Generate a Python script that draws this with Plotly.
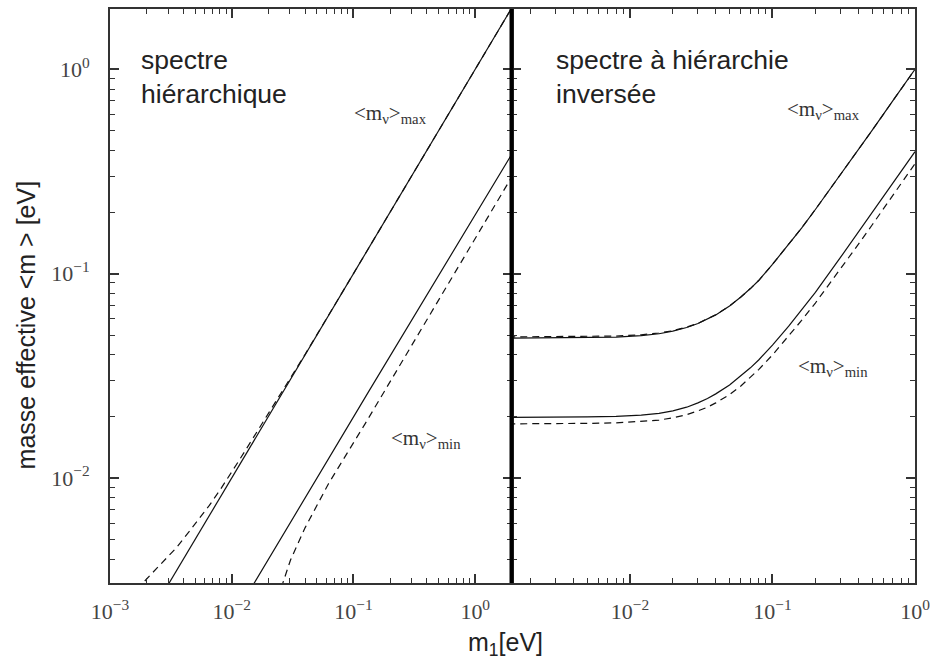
import plotly.graph_objects as go

# ---------------- data ----------------
# Left panel: normal hierarchy ("spectre hiérarchique")
nh_max_solid_x = [0.0029, 0.01, 0.1, 1.0, 2.0]
nh_max_solid_y = [0.0029, 0.01, 0.1, 1.0, 2.0]
nh_max_dash_x = [0.00165, 0.00187, 0.00226, 0.0028, 0.0035, 0.0045, 0.0055, 0.00655, 0.008,
                 0.00955, 0.0115, 0.0139, 0.019, 0.024, 0.03, 0.04, 0.1, 1.0, 2.0]
nh_max_dash_y = [0.00284, 0.00307, 0.00344, 0.00392, 0.00455, 0.00549, 0.00638, 0.00734, 0.00872,
                 0.01022, 0.01219, 0.0146, 0.01967, 0.0246, 0.03045, 0.0402, 0.1, 1.0, 2.0]
nh_min_solid_x = [0.0145, 0.1324, 2.0]
nh_min_solid_y = [0.0029, 0.0263, 0.385]
nh_min_dash_x = [0.0255, 0.0275, 0.0304, 0.04, 0.0625, 0.1245, 1.73, 2.0]
nh_min_dash_y = [0.0029, 0.0033, 0.00397, 0.0057, 0.0094, 0.0184, 0.258, 0.298]

# Right panel: inverted hierarchy ("spectre à hiérarchie inversée")
ih_x = [0.0014, 0.003, 0.005, 0.008, 0.012, 0.016, 0.02, 0.025, 0.03, 0.035, 0.04, 0.05,
        0.06, 0.07, 0.08, 0.1, 0.13, 0.16, 0.2, 0.3, 0.4, 0.5, 0.7, 1.0]
ih_max_solid_y = [0.0483, 0.0484, 0.0486, 0.0489, 0.0497, 0.0508, 0.0523, 0.0545, 0.0570, 0.0598,
                  0.0628, 0.0695, 0.0768, 0.0845, 0.0925, 0.111, 0.139, 0.167, 0.206, 0.304,
                  0.403, 0.502, 0.702, 1.0]
ih_max_dash_y = [0.0490, 0.0491, 0.0492, 0.0495, 0.0502, 0.0512, 0.0526, 0.0547, 0.0571, 0.0599,
                 0.0629, 0.0695, 0.0768, 0.0845, 0.0925, 0.111, 0.139, 0.167, 0.206, 0.304,
                 0.403, 0.502, 0.702, 1.0]
ih_min_solid_y = [0.0198, 0.0198, 0.0199, 0.0200, 0.0203, 0.0207, 0.0213, 0.0222, 0.0233, 0.0245,
                  0.0258, 0.0285, 0.0315, 0.0346, 0.0378, 0.0447, 0.0553, 0.0662, 0.081, 0.120,
                  0.160, 0.200, 0.279, 0.395]
ih_min_dash_y = [0.0184, 0.0184, 0.0185, 0.0186, 0.0189, 0.0192, 0.0197, 0.0204, 0.0213, 0.0222,
                 0.0233, 0.0256, 0.0282, 0.0310, 0.0339, 0.0400, 0.0494, 0.0590, 0.0718, 0.105,
                 0.139, 0.173, 0.242, 0.345]

# ticks
left_xtick_vals = [1e-3, 1e-2, 1e-1, 1.0]
left_xtick_text = ["10<sup>−3</sup>", "10<sup>−2</sup>", "10<sup>−1</sup>", "10<sup>0</sup>"]
right_xtick_vals = [1e-2, 1e-1, 1.0]
right_xtick_text = ["10<sup>−2</sup>", "10<sup>−1</sup>", "10<sup>0</sup>"]
ytick_vals = [1e-2, 1e-1, 1.0]
ytick_text = ["10<sup>−2</sup>", "10<sup>−1</sup>", "10<sup>0</sup>"]
minor_vals = [m * 10.0 ** e for e in (-3, -2, -1, 0) for m in range(2, 10)]

# ---------------- layout geometry ----------------
W, H = 937, 670
ML, MR, MT, MB = 110, 17, 7, 87
PW, PH = W - ML - MR, H - MT - MB
SPLIT_PX = 514
split = (SPLIT_PX - ML) / PW


def px(xp):
    return (xp - ML) / PW


def py(yp):
    return (H - MB - yp) / PH


fig = go.Figure()

solid = dict(color="#111", width=1.2)
dashed = dict(color="#111", width=1.2, dash="7px,5px")

fig.add_trace(go.Scatter(x=nh_max_solid_x, y=nh_max_solid_y, mode="lines", line=solid, xaxis="x", yaxis="y"))
fig.add_trace(go.Scatter(x=nh_max_dash_x, y=nh_max_dash_y, mode="lines", line=dashed, xaxis="x", yaxis="y"))
fig.add_trace(go.Scatter(x=nh_min_solid_x, y=nh_min_solid_y, mode="lines", line=solid, xaxis="x", yaxis="y"))
fig.add_trace(go.Scatter(x=nh_min_dash_x, y=nh_min_dash_y, mode="lines", line=dashed, xaxis="x", yaxis="y"))

fig.add_trace(go.Scatter(x=ih_x, y=ih_max_solid_y, mode="lines", line=solid, xaxis="x2", yaxis="y2"))
fig.add_trace(go.Scatter(x=ih_x, y=ih_max_dash_y, mode="lines", line=dashed, xaxis="x2", yaxis="y2"))
fig.add_trace(go.Scatter(x=ih_x, y=ih_min_solid_y, mode="lines", line=solid, xaxis="x2", yaxis="y2"))
fig.add_trace(go.Scatter(x=ih_x, y=ih_min_dash_y, mode="lines", line=dashed, xaxis="x2", yaxis="y2"))

tickfont = dict(family="Liberation Serif", size=22, color="#444")
axis_common = dict(
    type="log", showgrid=False, zeroline=False, showline=True, linecolor="#333",
    linewidth=2, mirror="ticks", ticks="inside", ticklen=9, tickwidth=1.5,
    tickcolor="#333", tickmode="array", tickfont=tickfont,
    minor=dict(ticks="inside", ticklen=5, tickwidth=1.2, tickcolor="#333",
               tickmode="array", tickvals=minor_vals, showgrid=False),
)

yrange = [-2.514, 0.295]

fig.update_layout(
    width=W, height=H,
    margin=dict(l=ML, r=MR, t=MT, b=MB),
    paper_bgcolor="white", plot_bgcolor="white",
    showlegend=False,
    xaxis=dict(axis_common, domain=[0, split], range=[-3, 0.298],
               tickvals=left_xtick_vals, ticktext=left_xtick_text,
               anchor="y", ticklabelstandoff=8),
    xaxis2=dict(axis_common, domain=[split, 1], range=[-2.831, 0],
                tickvals=right_xtick_vals, ticktext=right_xtick_text,
                anchor="y2", ticklabelstandoff=8),
    yaxis=dict(axis_common, domain=[0, 1], range=yrange,
               tickvals=ytick_vals, ticktext=ytick_text,
               anchor="x", ticklabelstandoff=14),
    yaxis2=dict(axis_common, domain=[0, 1], range=yrange,
                tickvals=ytick_vals, ticktext=ytick_text, showticklabels=False,
                anchor="x2"),
)

# thick separator between the two panels
fig.add_shape(type="line", xref="paper", yref="paper", x0=split, x1=split, y0=0, y1=1,
              line=dict(color="#000", width=4))

sans = "Liberation Sans, Arial, sans-serif"
serif = "Liberation Serif, Times New Roman, serif"
label_font = dict(family=serif, size=21, color="#333")

annots = [
    dict(x=px(139), y=py(41), text="spectre<br>hiérarchique", xanchor="left", yanchor="top",
         font=dict(family=sans, size=26.5, color="#222"), align="left"),
    dict(x=px(557), y=py(41), text="spectre à hiérarchie<br>inversée", xanchor="left", yanchor="top",
         font=dict(family=sans, size=26.5, color="#222"), align="left"),
    dict(x=px(392), y=py(112), text="&lt;m<sub>ν</sub>&gt;<sub>max</sub>", font=label_font),
    dict(x=px(428), y=py(438), text="&lt;m<sub>ν</sub>&gt;<sub>min</sub>", font=label_font),
    dict(x=px(828), y=py(108), text="&lt;m<sub>ν</sub>&gt;<sub>max</sub>", font=label_font),
    dict(x=px(837), y=py(366), text="&lt;m<sub>ν</sub>&gt;<sub>min</sub>", font=label_font),
    dict(x=px(25), y=py(324), text="masse effective &lt;m &gt; [eV]", textangle=-90,
         font=dict(family=sans, size=25, color="#222")),
    dict(x=px(468), y=py(644), text="m<sub>1</sub>[eV]", xanchor="left",
         font=dict(family=sans, size=25, color="#222")),
]
for a in annots:
    a.setdefault("xref", "paper")
    a.setdefault("yref", "paper")
    a.setdefault("xanchor", "center")
    a.setdefault("yanchor", "middle")
    a.setdefault("showarrow", False)
    fig.add_annotation(**a)

fig.write_html("out.html")
